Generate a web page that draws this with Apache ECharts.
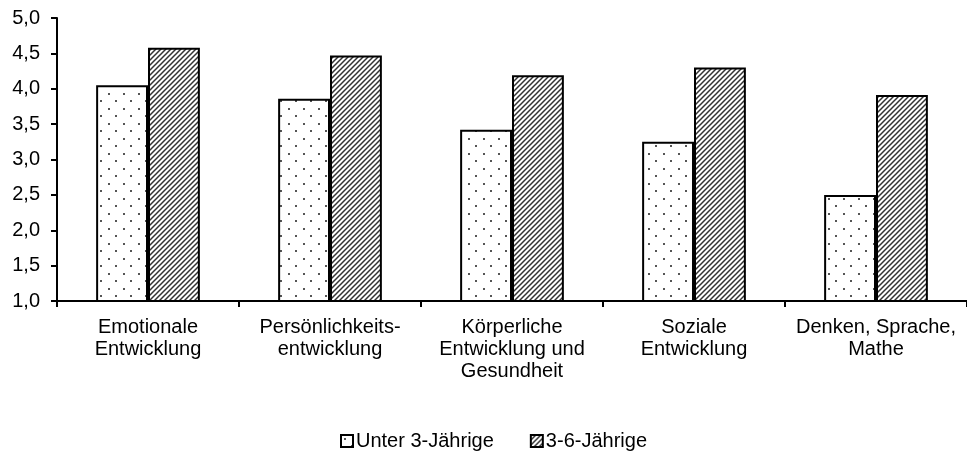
<!DOCTYPE html>
<html lang="de">
<head>
    <meta charset="UTF-8">
    <title>Entwicklungsbereiche</title>
    <script src="https://cdn.jsdelivr.net/npm/echarts@6/dist/echarts.min.js"></script>
    <style>
        html, body { margin: 0; padding: 0; background: #fff; }
        #main { width: 967px; height: 453px; }
    </style>
</head>
<body>
<div id="main"></div>
<script>
    // Daten
    var categories = ['Emotionale\nEntwicklung', 'Persönlichkeits-\nentwicklung', 'Körperliche\nEntwicklung und\nGesundheit', 'Soziale\nEntwicklung', 'Denken, Sprache,\nMathe'];
    var seriesNames = ['Unter 3-Jährige', '3-6-Jährige'];
    var unter3 = [4.05, 3.86, 3.42, 3.25, 2.50];
    var drei6 = [4.58, 4.47, 4.19, 4.30, 3.91];

    // Punktmuster
    function dotPattern() {
        var c = document.createElement('canvas');
        c.width = 15; c.height = 15;
        var ctx = c.getContext('2d');
        ctx.fillStyle = '#fff';
        ctx.fillRect(0, 0, 15, 15);
        ctx.fillStyle = '#555';
        ctx.fillRect(3, 3, 2, 2);
        ctx.fillRect(10, 10, 2, 2);
        return c;
    }
    // Schraffur ///
    function hatchPattern() {
        var c = document.createElement('canvas');
        c.width = 5; c.height = 5;
        var ctx = c.getContext('2d');
        ctx.fillStyle = '#fff';
        ctx.fillRect(0, 0, 5, 5);
        ctx.strokeStyle = '#333';
        ctx.lineWidth = 1.5;
        ctx.beginPath();
        ctx.moveTo(-1, 6); ctx.lineTo(6, -1);
        ctx.moveTo(-1, 1); ctx.lineTo(1, -1);
        ctx.moveTo(4, 6); ctx.lineTo(6, 4);
        ctx.stroke();
        return c;
    }

    var myChart = echarts.init(document.getElementById('main'));
    var font = 'Liberation Sans, Arial, sans-serif';
    var option = {
        animation: false,
        textStyle: { fontFamily: font },
        grid: { left: 57, right: 0, top: 18, bottom: 152, containLabel: false },
        legend: {
            top: 426,
            left: 335,
            icon: 'rect',
            itemWidth: 12,
            itemHeight: 12,
            itemGap: 36,
            textStyle: { fontSize: 20, color: '#000', fontFamily: font, padding: [0, 0, 0, -2] },
            data: seriesNames
        },
        xAxis: {
            type: 'category',
            data: categories,
            axisLine: { lineStyle: { color: '#000', width: 2 } },
            axisTick: { show: true, length: 6, lineStyle: { color: '#000', width: 2 } },
            axisLabel: { color: '#000', fontSize: 20, lineHeight: 21.7, margin: 16, interval: 0 }
        },
        yAxis: {
            type: 'value',
            min: 1,
            max: 5,
            interval: 0.5,
            splitLine: { show: false },
            axisLine: { show: true, lineStyle: { color: '#000', width: 2 } },
            axisTick: { show: true, length: 6, lineStyle: { color: '#000', width: 2 } },
            axisLabel: {
                color: '#000', fontSize: 20, margin: 17,
                formatter: function (v) { return v.toFixed(1).replace('.', ','); }
            }
        },
        series: [
            {
                name: seriesNames[0],
                type: 'bar',
                data: unter3,
                barGap: '0%',
                barCategoryGap: '43%',
                itemStyle: { color: { image: dotPattern(), repeat: 'repeat' }, borderColor: '#000', borderWidth: 2 }
            },
            {
                name: seriesNames[1],
                type: 'bar',
                data: drei6,
                itemStyle: { color: { image: hatchPattern(), repeat: 'repeat' }, borderColor: '#000', borderWidth: 2 }
            }
        ]
    };
    myChart.setOption(option);
</script>
</body>
</html>
